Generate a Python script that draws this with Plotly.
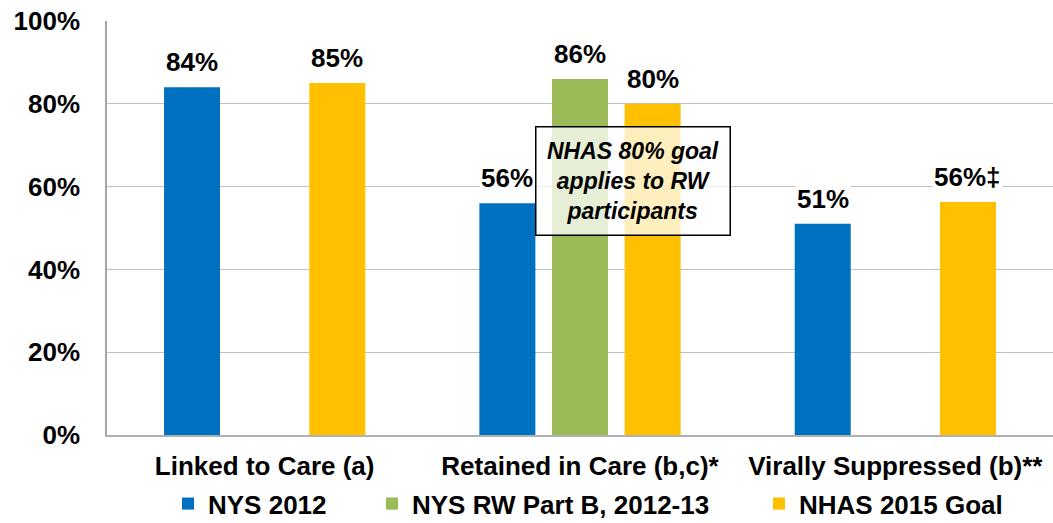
import plotly.graph_objects as go

categories = ["Linked to Care (a)", "Retained in Care (b,c)*", "Virally Suppressed (b)**"]
series_names = ["NYS 2012", "NYS RW Part B, 2012-13", "NHAS 2015 Goal"]
nys_2012 = [84, 56, 51]
nys_rw = [None, 86, None]
nhas_goal = [85, 80, 56.3]
label_text = [["84%", "56%", "51%"], [None, "86%", None], ["85%", "80%", "56%‡"]]
colors = ["#0070C0", "#9BBB59", "#FFC000"]
y_ticks = [0, 20, 40, 60, 80, 100]
y_tick_text = ["0%", "20%", "40%", "60%", "80%", "100%"]

FONT = "Liberation Sans, Arial, sans-serif"
BOLD26 = dict(family=FONT, size=26, color="black", weight="bold")

fig = go.Figure()
all_series = [nys_2012, nys_rw, nhas_goal]
legend_ids = ["legend", "legend2", "legend3"]
for name, vals, col, lg in zip(series_names, all_series, colors, legend_ids):
    fig.add_trace(go.Bar(name=name, x=categories, y=vals, legend=lg,
                         marker=dict(color=col, line=dict(width=0))))

slot_px = 72.6
for si, (vals, labels) in enumerate(zip(all_series, label_text)):
    for cat, v, t in zip(categories, vals, labels):
        if v is None:
            continue
        fig.add_annotation(x=cat, y=v, text=t, showarrow=False, yanchor="bottom",
                           xshift=(si - 1) * slot_px, yshift=8, bgcolor="white", borderpad=1,
                           font=BOLD26)

fig.add_annotation(xref="paper", yref="y", x=0.5555, y=61.4,
                   text="<b><i>NHAS 80% goal<br>applies to RW<br>participants</i></b>",
                   showarrow=False, bgcolor="rgba(255,255,255,0.75)", bordercolor="black",
                   borderwidth=1.5, borderpad=10.5,
                   font=dict(family=FONT, size=23, color="black"))

legend_common = dict(orientation="h", xref="container", xanchor="left",
                     yref="paper", y=-0.166, yanchor="middle",
                     font=BOLD26, itemwidth=30, bgcolor="rgba(0,0,0,0)",
                     borderwidth=0)
legend_left_px = [168, 372, 759]
fig.update_layout(
    width=1053, height=523,
    margin=dict(l=107, r=0, t=21, b=88, autoexpand=False),
    paper_bgcolor="white", plot_bgcolor="white",
    barmode="group", bargap=0.309, bargroupgap=0.229,
    font=BOLD26,
    legend=dict(x=legend_left_px[0] / 1053, **legend_common),
    legend2=dict(x=legend_left_px[1] / 1053, **legend_common),
    legend3=dict(x=legend_left_px[2] / 1053, **legend_common),
    showlegend=True,
)
fig.update_yaxes(range=[0, 100], tickvals=y_ticks, ticktext=y_tick_text, showgrid=True,
                 gridcolor="#BFBFBF", gridwidth=1, showline=True, linecolor="#A6A6A6",
                 linewidth=1.5, zeroline=False, ticklabelstandoff=20, automargin=False,
                 tickfont=BOLD26)
fig.update_xaxes(showline=True, linecolor="#B0B0B0", linewidth=2, showgrid=False,
                 ticklabelstandoff=7, automargin=False, tickfont=BOLD26)

fig.write_html("out.html", config={"displayModeBar": False},
               post_script="document.body.style.margin='0';")
